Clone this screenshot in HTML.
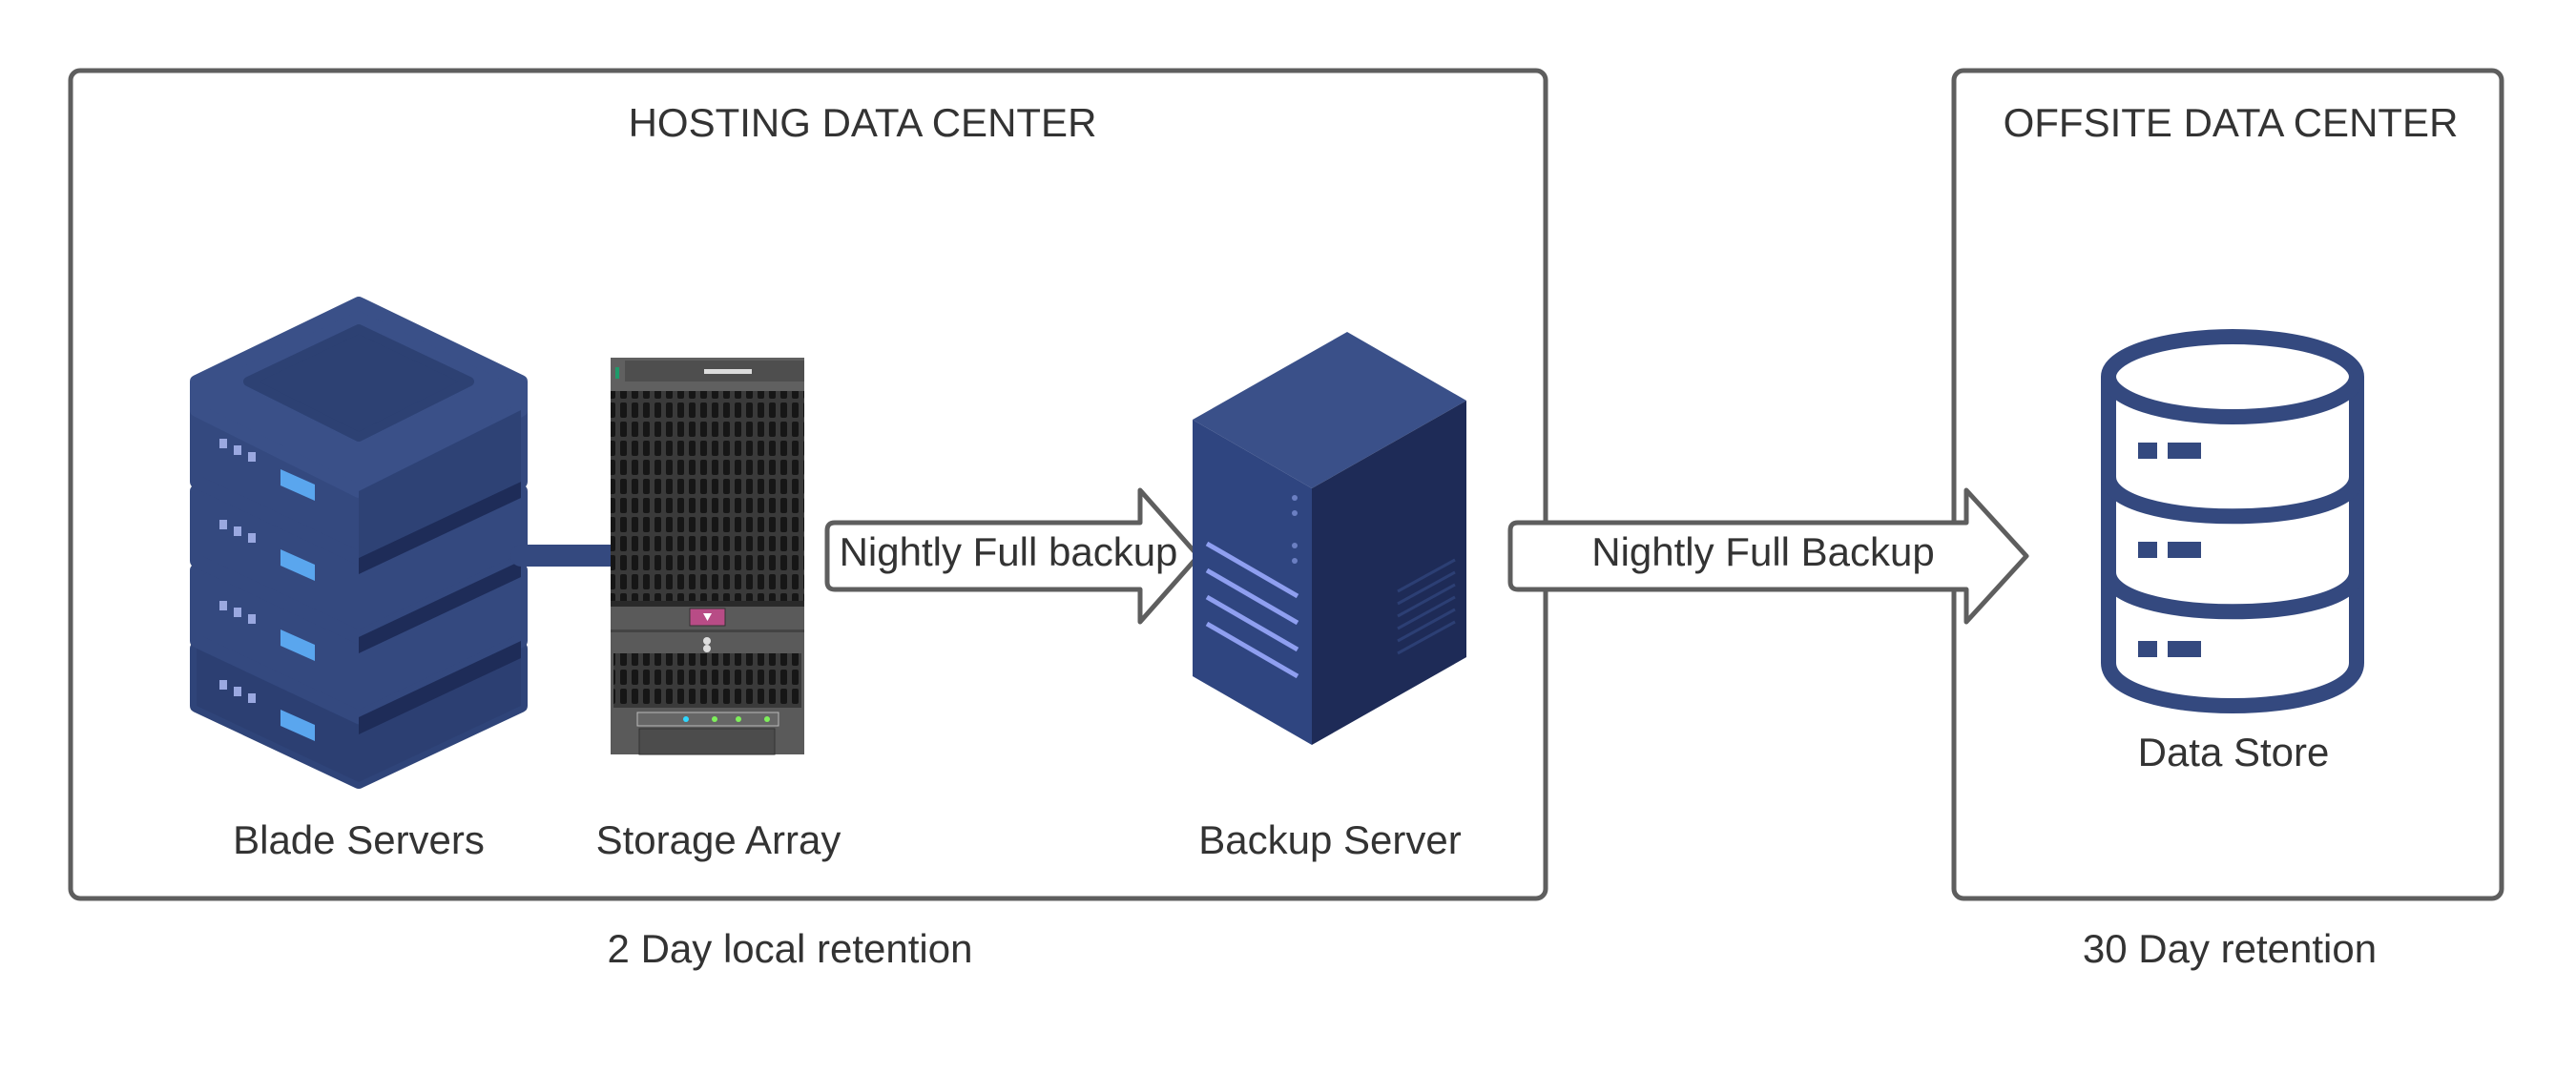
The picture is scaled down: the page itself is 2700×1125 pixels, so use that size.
<!DOCTYPE html>
<html><head><meta charset="utf-8"><style>
html,body{margin:0;padding:0;background:#fff;}
body{width:2700px;height:1125px;position:relative;overflow:hidden;font-family:"Liberation Sans",sans-serif;color:#333;}
.t{position:absolute;font-size:42px;white-space:nowrap;transform:translate(-50%,-50%);line-height:1;}
svg{position:absolute;left:0;top:0;}
</style></head><body>
<svg width="2700" height="1125" viewBox="0 0 2700 1125">
<defs>
<pattern id="grill" width="12" height="20" patternUnits="userSpaceOnUse">
<rect width="12" height="20" fill="#3a3a3a"/>
<rect x="2" y="2" width="7" height="16" rx="2" fill="#161616"/>
</pattern>
</defs>
<rect x="74" y="74" width="1546" height="868" rx="10" fill="none" stroke="#5e5e5e" stroke-width="5"/>
<rect x="2048" y="74" width="574" height="868" rx="10" fill="none" stroke="#5e5e5e" stroke-width="5"/>

<g stroke-linejoin="round">
<path d="M206 680 L376 600 L546 680 L546 740 L376 820 L206 740 Z" fill="#2f4479" stroke="#2f4479" stroke-width="14"/>
<path d="M206 680 L376 760 L546 680 L546 740 L376 820 L206 740 Z" fill="#2c3f72"/>
<path d="M206 598 L376 518 L546 598 L546 672 L376 752 L206 672 Z" fill="#34497f" stroke="#34497f" stroke-width="14"/>
<path d="M376 752 L546 672 L546 690 L376 770 Z" fill="#1e2c58"/>
<path d="M206 515 L376 435 L546 515 L546 588 L376 668 L206 588 Z" fill="#34497f" stroke="#34497f" stroke-width="14"/>
<path d="M376 668 L546 588 L546 605 L376 685 Z" fill="#1e2c58"/>
<path d="M206 430 L376 350 L546 430 L546 505 L376 585 L206 505 Z" fill="#34497f" stroke="#34497f" stroke-width="14"/>
<path d="M376 585 L546 505 L546 522 L376 602 Z" fill="#1e2c58"/>
<path d="M206 400 L376 318 L546 400 L546 430 L376 515 L206 430 Z" fill="#3a5088" stroke="#3a5088" stroke-width="14"/>
<path d="M260 400 L376 345 L492 400 L376 458 Z" fill="#2d4173" stroke="#2d4173" stroke-width="10"/>
<path d="M376 515 L546 430 L546 505 L376 585 Z" fill="#2e4275"/>
<g fill="#9aa8e0">
<rect x="230" y="460" width="8" height="10"/><rect x="245" y="467" width="8" height="10"/><rect x="260" y="474" width="8" height="10"/>
<rect x="230" y="545" width="8" height="10"/><rect x="245" y="552" width="8" height="10"/><rect x="260" y="559" width="8" height="10"/>
<rect x="230" y="630" width="8" height="10"/><rect x="245" y="637" width="8" height="10"/><rect x="260" y="644" width="8" height="10"/>
<rect x="230" y="713" width="8" height="10"/><rect x="245" y="720" width="8" height="10"/><rect x="260" y="727" width="8" height="10"/>
</g>
<g fill="#5aa6ee">
<path d="M294 492 L330 508 L330 525 L294 509 Z"/>
<path d="M294 576 L330 592 L330 609 L294 593 Z"/>
<path d="M294 660 L330 676 L330 693 L294 677 Z"/>
<path d="M294 744 L330 760 L330 777 L294 761 Z"/>
</g>
</g>
<rect x="535" y="571" width="120" height="23" rx="11" fill="#34497f"/>

<g>
<rect x="640" y="375" width="203" height="416" fill="#5a5a5a"/>
<rect x="640" y="375" width="203" height="35" fill="#606060"/>
<rect x="655" y="378" width="188" height="22" fill="#4e4e4e"/>
<rect x="738" y="387" width="50" height="5" fill="#ddd"/>
<rect x="645" y="385" width="4" height="12" fill="#1f9a6a"/>
<rect x="640" y="410" width="203" height="220" fill="url(#grill)"/>
<rect x="640" y="630" width="203" height="6" fill="#2a2a2a"/>
<rect x="723" y="638" width="37" height="18" fill="#b84c86" stroke="#333" stroke-width="1"/>
<path d="M737 643 L746 643 L741.5 651 Z" fill="#fff"/>
<rect x="640" y="660" width="203" height="3" fill="#444"/>
<circle cx="741" cy="672" r="4" fill="#ddd"/><circle cx="741" cy="680" r="4" fill="#ddd"/>
<rect x="643" y="685" width="197" height="57" fill="url(#grill)"/>
<rect x="668" y="747" width="148" height="14" fill="#666" stroke="#bbb" stroke-width="1"/>
<circle cx="719" cy="754" r="3" fill="#2fd7ff"/><circle cx="749" cy="754" r="3" fill="#7ef05a"/><circle cx="774" cy="754" r="3" fill="#7ef05a"/><circle cx="804" cy="754" r="3" fill="#7ef05a"/>
<rect x="670" y="764" width="142" height="27" fill="#4c4c4c" stroke="#333"/>
</g>

<path d="M875 548 L1195 548 L1195 514 L1256 583 L1195 652 L1195 618 L875 618 Q867 618 867 610 L867 556 Q867 548 875 548 Z" fill="#fff" stroke="#5e5e5e" stroke-width="5" stroke-linejoin="round"/>
<path d="M1591 548 L2061 548 L2061 514 L2124 583 L2061 652 L2061 618 L1591 618 Q1583 618 1583 610 L1583 556 Q1583 548 1591 548 Z" fill="#fff" stroke="#5e5e5e" stroke-width="5" stroke-linejoin="round"/>

<g>
<path d="M1250 440 L1412 348 L1537 420 L1375 512 Z" fill="#3a5089"/>
<path d="M1250 440 L1375 512 L1375 781 L1250 709 Z" fill="#2f4580"/>
<path d="M1375 512 L1537 420 L1537 689 L1375 781 Z" fill="#1e2b57"/>
<g stroke="#8f9ff0" stroke-width="5">
<line x1="1265" y1="570" x2="1360" y2="625"/>
<line x1="1265" y1="598" x2="1360" y2="653"/>
<line x1="1265" y1="626" x2="1360" y2="681"/>
<line x1="1265" y1="654" x2="1360" y2="709"/>
</g>
<g stroke="#2c3f74" stroke-width="3">
<line x1="1465" y1="620" x2="1525" y2="587"/><line x1="1465" y1="633" x2="1525" y2="600"/><line x1="1465" y1="646" x2="1525" y2="613"/><line x1="1465" y1="659" x2="1525" y2="626"/><line x1="1465" y1="672" x2="1525" y2="639"/><line x1="1465" y1="685" x2="1525" y2="652"/>
</g>
<g fill="#6b7fc2"><circle cx="1357" cy="522" r="3"/><circle cx="1357" cy="538" r="3"/><circle cx="1357" cy="572" r="3"/><circle cx="1357" cy="588" r="3"/></g>
</g>

<g fill="none" stroke="#34497f" stroke-width="16">
<path d="M2210 395 L2210 695 C2210 755 2470 755 2470 695 L2470 395"/>
<ellipse cx="2340" cy="395" rx="130" ry="42"/>
<path d="M2210 500 C2210 555 2470 555 2470 500"/>
<path d="M2210 600 C2210 655 2470 655 2470 600"/>
</g>
<g fill="#34497f">
<rect x="2241" y="464" width="20" height="17"/><rect x="2272" y="464" width="35" height="17"/>
<rect x="2241" y="568" width="20" height="17"/><rect x="2272" y="568" width="35" height="17"/>
<rect x="2241" y="672" width="20" height="17"/><rect x="2272" y="672" width="35" height="17"/>
</g>
</svg>

<div class="t" style="left:904px;top:129px">HOSTING DATA CENTER</div>
<div class="t" style="left:2338px;top:129px">OFFSITE DATA CENTER</div>
<div class="t" style="left:1057px;top:579px">Nightly Full backup</div>
<div class="t" style="left:1848px;top:579px">Nightly Full Backup</div>
<div class="t" style="left:376px;top:881px">Blade Servers</div>
<div class="t" style="left:753px;top:881px">Storage Array</div>
<div class="t" style="left:1394px;top:881px">Backup Server</div>
<div class="t" style="left:2341px;top:789px">Data Store</div>
<div class="t" style="left:828px;top:995px">2 Day local retention</div>
<div class="t" style="left:2337px;top:995px">30 Day retention</div>
</body></html>
